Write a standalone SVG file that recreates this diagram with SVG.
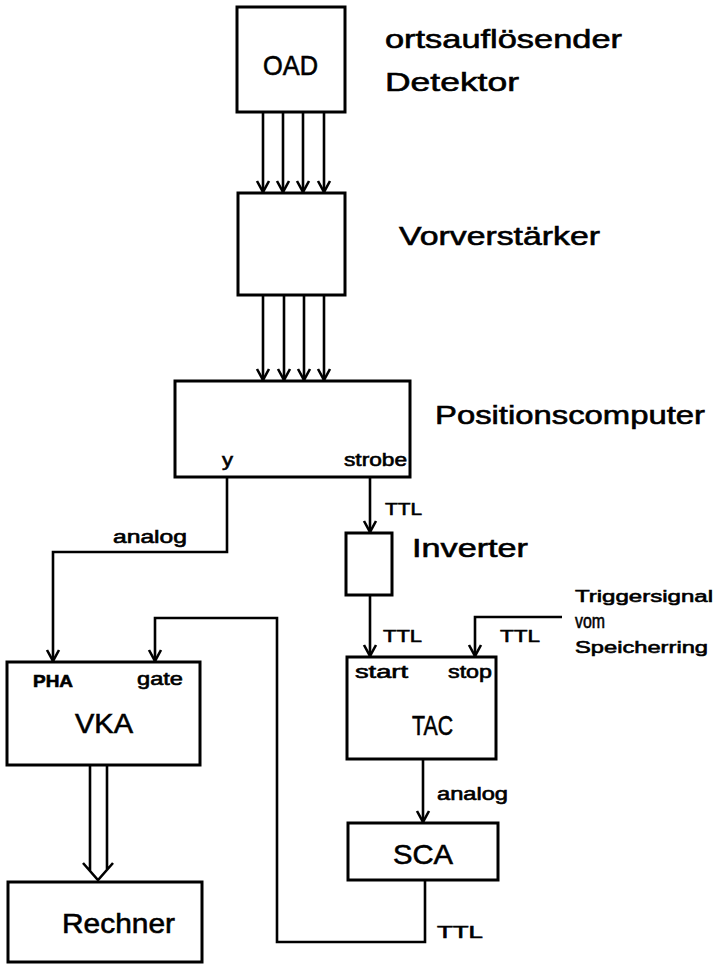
<svg xmlns="http://www.w3.org/2000/svg" width="719" height="964" viewBox="0 0 719 964">
<style>
.box{fill:#fff;stroke:#000;stroke-width:3}
.ln{fill:none;stroke:#000;stroke-width:2.6;stroke-linejoin:miter}
.t{font-family:"Liberation Sans","DejaVu Sans",sans-serif;fill:#000;stroke:#000;stroke-width:0.6}
.big{font-size:28px}
.mid{font-size:26px}
.sm{font-size:18px}
.xs{font-size:17px}
</style>
<defs>
<marker id="ah" markerUnits="userSpaceOnUse" markerWidth="16" markerHeight="16" viewBox="0 0 16 16" refX="13" refY="8" orient="auto">
<path d="M2,2 L13,8 L2,14" fill="none" stroke="#000" stroke-width="2.6"/>
</marker>
</defs>
<rect width="719" height="964" fill="#fff"/>

<g id="connectors">
<path class="ln" d="M263,112 V192" marker-end="url(#ah)"/>
<path class="ln" d="M283,112 V192" marker-end="url(#ah)"/>
<path class="ln" d="M303,112 V192" marker-end="url(#ah)"/>
<path class="ln" d="M324,112 V192" marker-end="url(#ah)"/>
<path class="ln" d="M263,295 V380" marker-end="url(#ah)"/>
<path class="ln" d="M284,295 V380" marker-end="url(#ah)"/>
<path class="ln" d="M304,295 V380" marker-end="url(#ah)"/>
<path class="ln" d="M324,295 V380" marker-end="url(#ah)"/>
<path class="ln" d="M227,477 V552 H53 V661" marker-end="url(#ah)"/>
<path class="ln" d="M370,477 V532" marker-end="url(#ah)"/>
<path class="ln" d="M370,595 V656" marker-end="url(#ah)"/>
<path class="ln" d="M562,617 H475 V656" marker-end="url(#ah)"/>
<path class="ln" d="M423,759 V822" marker-end="url(#ah)"/>
<path class="ln" d="M425,880 V942 H277 V618 H155 V661" marker-end="url(#ah)"/>
<path class="ln" d="M90,765 V871 M107,765 V870 M83,863 L98,880 L113,863"/>
</g>

<g id="oad">
<rect class="box" x="237" y="7" width="108" height="105"/>
<text class="t big" x="263" y="75" textLength="55" lengthAdjust="spacingAndGlyphs">OAD</text>
<text class="t mid" x="385" y="48" textLength="237" lengthAdjust="spacingAndGlyphs">ortsauflösender</text>
<text class="t mid" x="385" y="91" textLength="134" lengthAdjust="spacingAndGlyphs">Detektor</text>
</g>

<g id="vorverstaerker">
<rect class="box" x="238" y="193" width="107" height="102"/>
<text class="t mid" x="399" y="245" textLength="201" lengthAdjust="spacingAndGlyphs">Vorverstärker</text>
</g>

<g id="positionscomputer">
<rect class="box" x="175" y="381" width="235" height="96"/>
<text class="t sm" x="222" y="466" textLength="11" lengthAdjust="spacingAndGlyphs">y</text>
<text class="t sm" x="344" y="466" textLength="63" lengthAdjust="spacingAndGlyphs">strobe</text>
<text class="t mid" x="435" y="424" textLength="270" lengthAdjust="spacingAndGlyphs">Positionscomputer</text>
</g>

<g id="inverter">
<rect class="box" x="346" y="533" width="46" height="62"/>
<text class="t mid" x="412" y="557" textLength="116" lengthAdjust="spacingAndGlyphs">Inverter</text>
</g>

<g id="tac">
<rect class="box" x="347" y="657" width="149" height="102"/>
<text class="t sm" x="355" y="678" textLength="53" lengthAdjust="spacingAndGlyphs">start</text>
<text class="t sm" x="448" y="678" textLength="44" lengthAdjust="spacingAndGlyphs">stop</text>
<text class="t big" x="412" y="735" textLength="41" lengthAdjust="spacingAndGlyphs">TAC</text>
</g>

<g id="sca">
<rect class="box" x="348" y="823" width="150" height="57"/>
<text class="t big" x="393" y="864" textLength="60" lengthAdjust="spacingAndGlyphs">SCA</text>
</g>

<g id="vka">
<rect class="box" x="7" y="662" width="193" height="103"/>
<text class="t xs" x="33" y="687" font-weight="bold" textLength="40" lengthAdjust="spacingAndGlyphs">PHA</text>
<text class="t sm" x="137" y="685" textLength="46" lengthAdjust="spacingAndGlyphs">gate</text>
<text class="t big" x="75" y="733" textLength="58" lengthAdjust="spacingAndGlyphs">VKA</text>
</g>

<g id="rechner">
<rect class="box" x="8" y="882" width="194" height="80"/>
<text class="t big" x="62" y="933" textLength="113" lengthAdjust="spacingAndGlyphs">Rechner</text>
</g>

<g id="labels">
<text class="t xs" x="385" y="515" textLength="37" lengthAdjust="spacingAndGlyphs">TTL</text>
<text class="t sm" x="113" y="543" textLength="74" lengthAdjust="spacingAndGlyphs">analog</text>
<text class="t xs" x="383" y="642" textLength="39" lengthAdjust="spacingAndGlyphs">TTL</text>
<text class="t xs" x="500" y="642" textLength="40" lengthAdjust="spacingAndGlyphs">TTL</text>
<text class="t xs" x="575" y="602" textLength="138" lengthAdjust="spacingAndGlyphs">Triggersignal</text>
<text class="t" x="575" y="628" font-size="20" textLength="30" lengthAdjust="spacingAndGlyphs">vom</text>
<text class="t xs" x="575" y="653" textLength="133" lengthAdjust="spacingAndGlyphs">Speicherring</text>
<text class="t sm" x="437" y="800" textLength="71" lengthAdjust="spacingAndGlyphs">analog</text>
<text class="t xs" x="437" y="938" textLength="46" lengthAdjust="spacingAndGlyphs">TTL</text>
</g>
</svg>
